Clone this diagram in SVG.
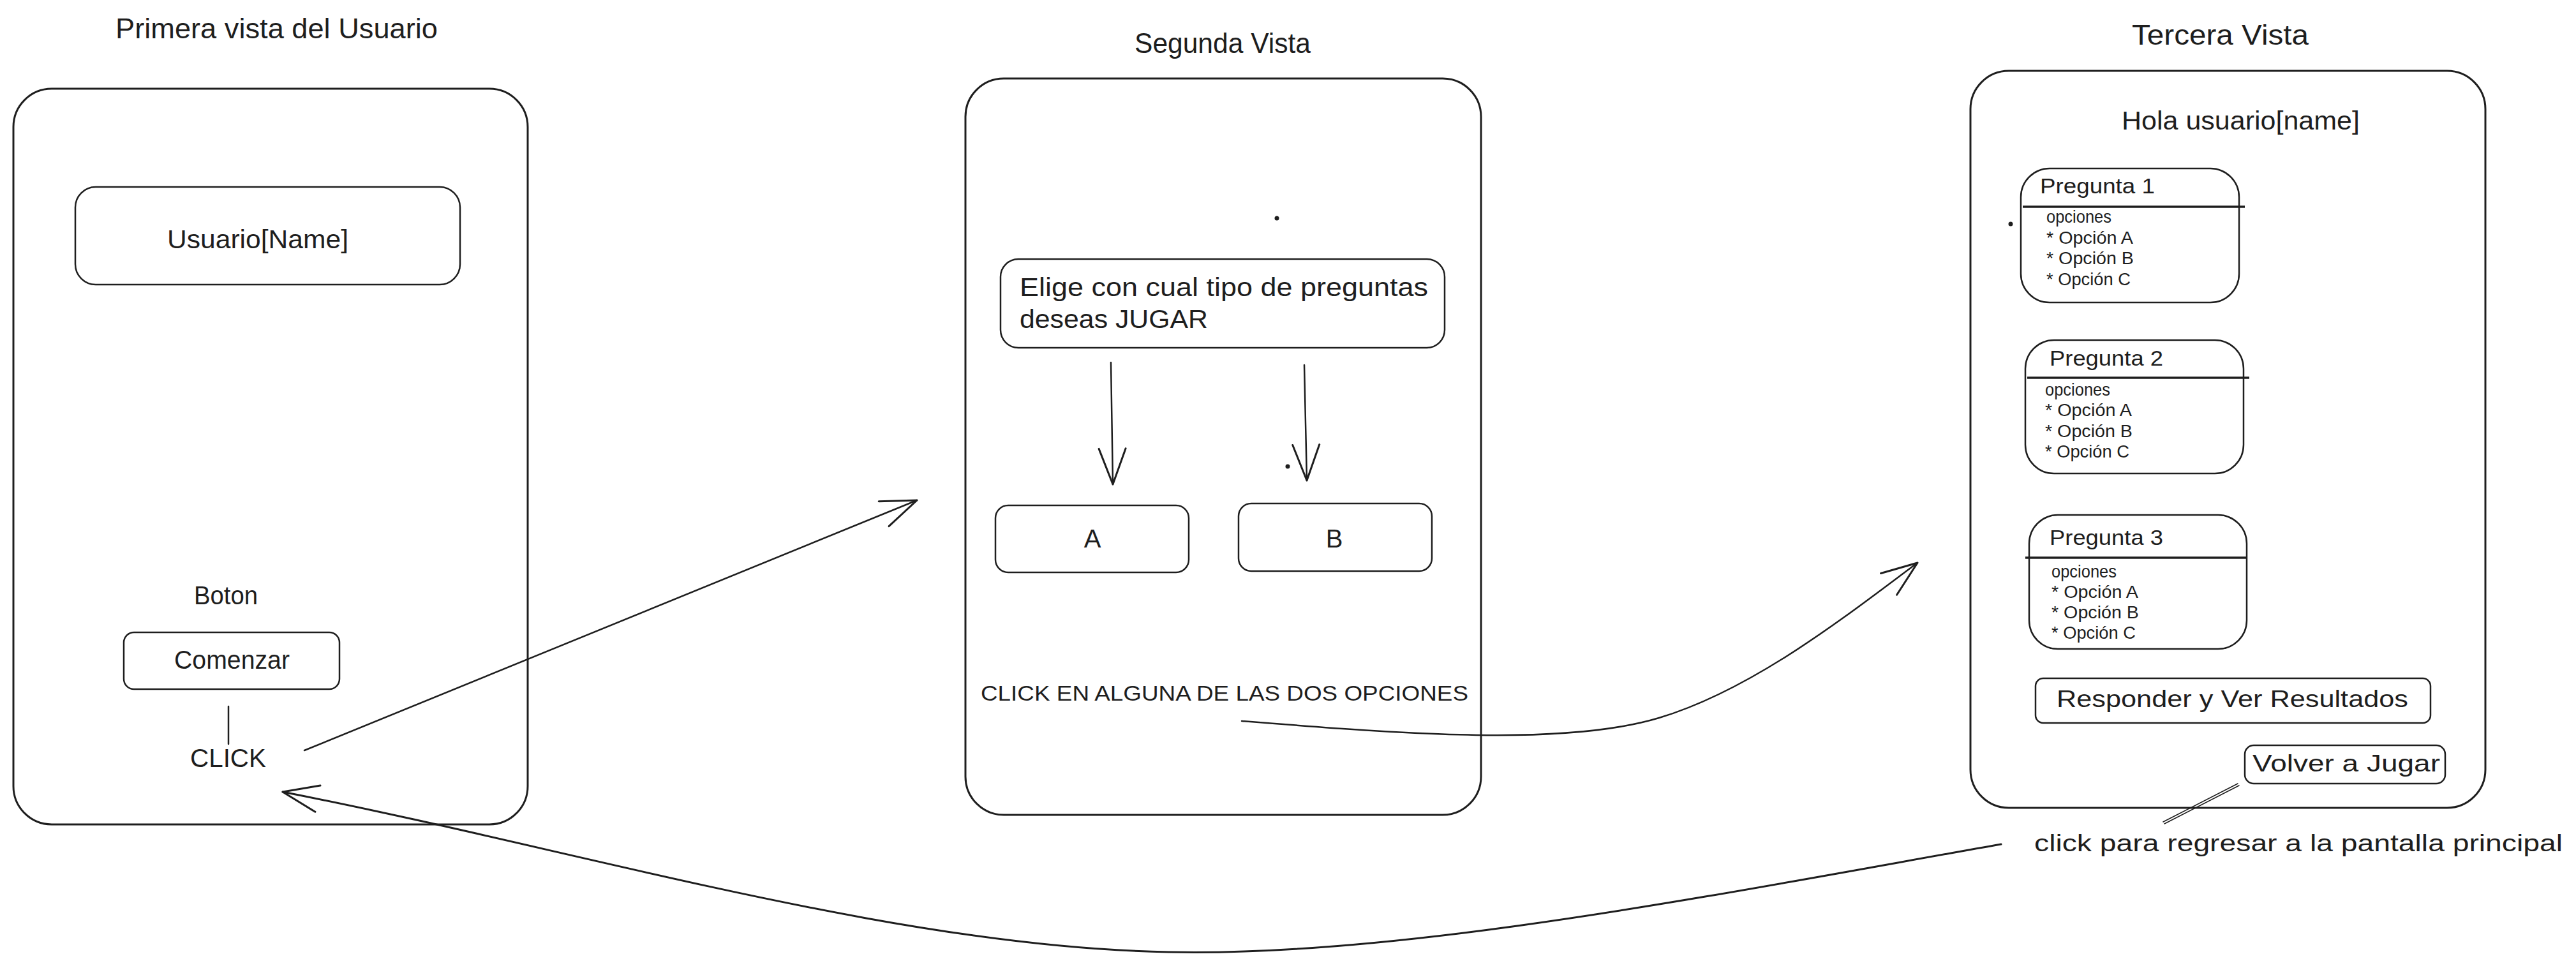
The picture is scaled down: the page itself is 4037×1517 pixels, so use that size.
<svg xmlns="http://www.w3.org/2000/svg" width="4037" height="1517" viewBox="0 0 4037 1517">
<style>
.bg{fill:#ffffff}
.frame{fill:none;stroke:#1e1e1e;stroke-width:3}
.box{fill:none;stroke:#1e1e1e;stroke-width:2.5}
.div{fill:none;stroke:#1e1e1e;stroke-width:3.5}
.t{font-family:"Liberation Sans","DejaVu Sans",sans-serif;fill:#1e1e1e}
.title{font-size:44px}
.big{font-size:40px}
.mid{font-size:36px}
.hdr{font-size:33px}
.sm{font-size:27px}
.conn{fill:none;stroke:#1e1e1e;stroke-width:2.5;stroke-linecap:round}
.thin{fill:none;stroke:#1e1e1e;stroke-width:1.6;stroke-linecap:round}
.dot{fill:#1e1e1e}
</style>
<defs>
<marker id="ah" markerUnits="userSpaceOnUse" viewBox="-64 -30 70 60" refX="0" refY="0" markerWidth="70" markerHeight="60" orient="auto" overflow="visible">
<path d="M-56,-21 L0,0 L-56,21" fill="none" stroke="#1e1e1e" stroke-width="3" stroke-linecap="round" stroke-linejoin="round"/>
</marker>
</defs>
<rect class="bg" x="0" y="0" width="4037" height="1517"/>

<g id="vista1">
<text class="t title" x="181" y="60" textLength="505" lengthAdjust="spacingAndGlyphs">Primera vista del Usuario</text>
<rect class="frame" x="21" y="139" width="806" height="1153" rx="60"/>
</g>
<g id="usuario-name">
<rect class="box" x="118" y="293" width="603" height="153" rx="32"/>
<text class="t big" x="262" y="389" textLength="284" lengthAdjust="spacingAndGlyphs">Usuario[Name]</text>
</g>
<g id="boton-label">
<text class="t big" x="304" y="947" textLength="100" lengthAdjust="spacingAndGlyphs">Boton</text>
</g>
<g id="comenzar">
<rect class="box" x="194" y="991" width="338" height="89" rx="16"/>
<text class="t big" x="273" y="1048" textLength="181" lengthAdjust="spacingAndGlyphs">Comenzar</text>
</g>
<g id="click-label">
<text class="t big" x="298" y="1202" textLength="119" lengthAdjust="spacingAndGlyphs">CLICK</text>
</g>

<g id="vista2">
<text class="t title" x="1778" y="83" textLength="276" lengthAdjust="spacingAndGlyphs">Segunda Vista</text>
<rect class="frame" x="1513" y="123" width="808" height="1154" rx="60"/>
<circle class="dot" cx="2001" cy="342" r="3.5"/>
<circle class="dot" cx="2018" cy="731" r="3.5"/>
</g>
<g id="elige">
<rect class="box" x="1568" y="406" width="696" height="139" rx="28"/>
<text class="t big" x="1598" y="464" textLength="640" lengthAdjust="spacingAndGlyphs">Elige con cual tipo de preguntas</text>
<text class="t big" x="1598" y="514" textLength="295" lengthAdjust="spacingAndGlyphs">deseas JUGAR</text>
</g>
<g id="opcion-a">
<rect class="box" x="1560" y="792" width="303" height="105" rx="20"/>
<text class="t big" x="1712" y="858" text-anchor="middle">A</text>
</g>
<g id="opcion-b">
<rect class="box" x="1941" y="789" width="303" height="106" rx="20"/>
<text class="t big" x="2091" y="858" text-anchor="middle">B</text>
</g>
<g id="click-en-label">
<text class="t" style="font-size:34px" x="1537" y="1098" textLength="764" lengthAdjust="spacingAndGlyphs">CLICK EN ALGUNA DE LAS DOS OPCIONES</text>
</g>

<g id="vista3">
<text class="t title" x="3341" y="70" textLength="277" lengthAdjust="spacingAndGlyphs">Tercera Vista</text>
<rect class="frame" x="3088" y="111" width="807" height="1155" rx="60"/>
<text class="t big" x="3325" y="203" textLength="373" lengthAdjust="spacingAndGlyphs">Hola usuario[name]</text>
<circle class="dot" cx="3151" cy="351" r="3.5"/>
</g>
<g id="pregunta1">
<rect class="box" x="3167" y="264" width="342" height="210" rx="45"/>
<line class="div" x1="3170" y1="324" x2="3518" y2="324"/>
<text class="t hdr" x="3197" y="303" textLength="180" lengthAdjust="spacingAndGlyphs">Pregunta 1</text>
<text class="t sm" x="3207" y="349" textLength="102" lengthAdjust="spacingAndGlyphs">opciones</text>
<text class="t sm" x="3207" y="382" textLength="136" lengthAdjust="spacingAndGlyphs">* Opción A</text>
<text class="t sm" x="3207" y="414" textLength="137" lengthAdjust="spacingAndGlyphs">* Opción B</text>
<text class="t sm" x="3207" y="447" textLength="132" lengthAdjust="spacingAndGlyphs">* Opción C</text>
</g>
<g id="pregunta2">
<rect class="box" x="3174" y="533" width="342" height="209" rx="45"/>
<line class="div" x1="3177" y1="592" x2="3525" y2="592"/>
<text class="t hdr" x="3212" y="573" textLength="178" lengthAdjust="spacingAndGlyphs">Pregunta 2</text>
<text class="t sm" x="3205" y="620" textLength="102" lengthAdjust="spacingAndGlyphs">opciones</text>
<text class="t sm" x="3205" y="652" textLength="136" lengthAdjust="spacingAndGlyphs">* Opción A</text>
<text class="t sm" x="3205" y="685" textLength="137" lengthAdjust="spacingAndGlyphs">* Opción B</text>
<text class="t sm" x="3205" y="717" textLength="132" lengthAdjust="spacingAndGlyphs">* Opción C</text>
</g>
<g id="pregunta3">
<rect class="box" x="3180" y="807" width="341" height="210" rx="45"/>
<line class="div" x1="3174" y1="874" x2="3521" y2="874"/>
<text class="t hdr" x="3212" y="854" textLength="178" lengthAdjust="spacingAndGlyphs">Pregunta 3</text>
<text class="t sm" x="3215" y="905" textLength="102" lengthAdjust="spacingAndGlyphs">opciones</text>
<text class="t sm" x="3215" y="937" textLength="136" lengthAdjust="spacingAndGlyphs">* Opción A</text>
<text class="t sm" x="3215" y="969" textLength="137" lengthAdjust="spacingAndGlyphs">* Opción B</text>
<text class="t sm" x="3215" y="1001" textLength="132" lengthAdjust="spacingAndGlyphs">* Opción C</text>
</g>
<g id="responder">
<rect class="box" x="3190" y="1063" width="619" height="70" rx="12"/>
<text class="t mid" x="3223" y="1108" textLength="551" lengthAdjust="spacingAndGlyphs">Responder y Ver Resultados</text>
</g>
<g id="volver">
<rect class="box" x="3518" y="1168" width="314" height="60" rx="14"/>
<text class="t mid" x="3530" y="1209" textLength="294" lengthAdjust="spacingAndGlyphs">Volver a Jugar</text>
</g>
<g id="regresar-label">
<text class="t mid" x="3188" y="1334" textLength="828" lengthAdjust="spacingAndGlyphs">click para regresar a la pantalla principal</text>
</g>

<g id="connectors">
<line class="conn" x1="358" y1="1107" x2="358" y2="1166"/>
<path class="conn" d="M477,1176 L1437,784" marker-end="url(#ah)"/>
<path class="conn" d="M1741,568 L1744,759" marker-end="url(#ah)"/>
<path class="conn" d="M2044,572 L2048,753" marker-end="url(#ah)"/>
<path class="conn" d="M1946,1130 C2200,1150 2450,1170 2600,1125 C2750,1080 2900,960 3005,882" marker-end="url(#ah)"/>
<path class="conn" style="stroke-width:3" d="M3136,1323 C2700,1400 2200,1500 1831,1492 C1400,1484 900,1330 443,1241" marker-end="url(#ah)"/>
<line class="thin" x1="3507" y1="1228" x2="3390" y2="1288"/>
<line class="thin" x1="3509" y1="1231" x2="3392" y2="1291"/>
</g>
</svg>
